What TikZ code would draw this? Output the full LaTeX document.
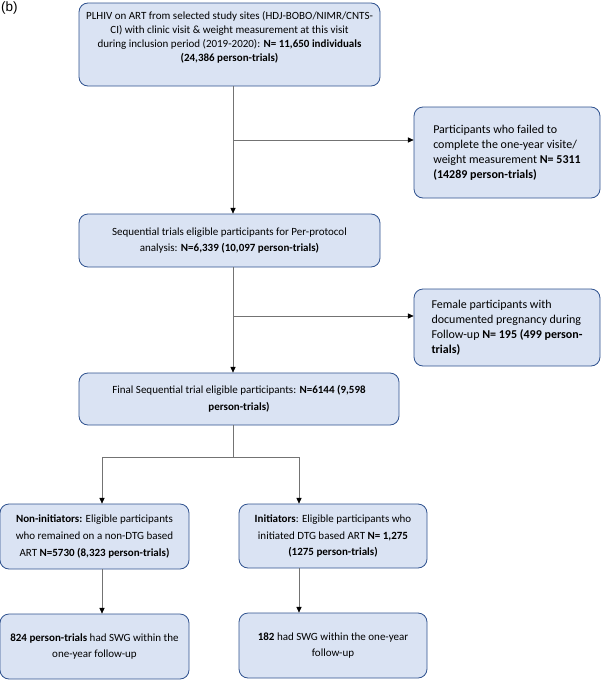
\documentclass[tikz,border=0pt]{standalone}
\usepackage{fontspec}
\setmainfont{Carlito}
\newfontfamily\panelfont{Liberation Sans}
\usepackage{xcolor}
\usepackage{tikz}
\usetikzlibrary{positioning, arrows.meta, calc}
\definecolor{boxfill}{RGB}{218,227,243}
\definecolor{boxline}{RGB}{47,82,143}
\definecolor{linkgray}{RGB}{115,115,115}
\tikzset{
  fbox/.style={draw=boxline, fill=boxfill, rounded corners=9pt, align=center, line width=0.8pt, font=\fontsize{11}{16.6}\selectfont, inner sep=2pt},
  sidebox/.style={fbox, align=left, font=\fontsize{12}{15}\selectfont},
  arr/.style={-{Triangle[length=2mm, width=1.8mm, color=black]}, draw=linkgray, line width=0.6pt},
  link/.style={draw=linkgray, line width=0.6pt},
}

\begin{document}
\begin{tikzpicture}[x=1pt, y=-1pt]
  \useasboundingbox (0,0) rectangle (602,680);
  \node[anchor=north west, font=\panelfont\fontsize{13.5}{15}\selectfont, inner sep=0pt] (panel) at (1,2) {(b)};

  % main column
  \node[fbox, font=\fontsize{11}{14}\selectfont, minimum width=301pt, minimum height=83pt] (cohort) at (229.5,44.5)
    {PLHIV on ART from selected study sites (HDJ-BOBO/NIMR/CNTS-\\
     CI) with clinic visit \& weight measurement at this visit\\
     during inclusion period (2019-2020): \textbf{N= 11,650 individuals}\\
     \textbf{(24,386 person-trials)}\rule[-17pt]{0pt}{0pt}};
  \node[fbox, minimum width=301pt, minimum height=53pt] (perproto) at (229.5,240.5)
    {Sequential trials eligible participants for Per-protocol\\
     analysis: \textbf{N=6,339 (10,097 person-trials)}};
  \node[fbox, minimum width=320pt, minimum height=52pt] (final) at (239,399)
    {Final Sequential trial eligible participants: \textbf{N=6144 (9,598}\\
     \textbf{person-trials)}};

  % exclusions
  \node[sidebox, minimum width=186pt, minimum height=91pt] (lost) at (507,152.5)
    {Participants who failed to\\
     complete the one-year visite/\\
     weight measurement \textbf{N= 5311}\\
     \textbf{(14289 person-trials)}};
  \node[sidebox, minimum width=186pt, minimum height=77pt] (preg) at (507,327.5)
    {Female participants with\\
     documented pregnancy during\\
     Follow-up \textbf{N= 195 (499 person-}\\
     \textbf{trials)}};

  % arms
  \node[fbox, minimum width=189pt, minimum height=65pt] (noninit) at (94.5,536.5)
    {\textbf{Non-initiators:} Eligible participants\\
     who remained on a non-DTG based\\
     ART \textbf{N=5730 (8,323 person-trials)}};
  \node[fbox, minimum width=188pt, minimum height=64pt] (init) at (333,536)
    {\textbf{Initiators}: Eligible participants who\\
     initiated DTG based ART \textbf{N= 1,275}\\
     \textbf{(1275 person-trials)}};
  \node[fbox, minimum width=189pt, minimum height=65pt] (swgnon) at (94.5,646.5)
    {\textbf{824 person-trials} had SWG within the\\
     one-year follow-up};
  \node[fbox, minimum width=188pt, minimum height=65pt] (swginit) at (333,645.5)
    {\textbf{182} had SWG within the one-year\\
     follow-up};

  % connectors
  \coordinate (trunk) at (233,0);
  \coordinate (exc1) at (233,140);
  \coordinate (exc2) at (233,316);
  \coordinate (split) at (233,457);
  \coordinate (lsplit) at (102,457);
  \coordinate (rsplit) at (299,457);
  \draw[arr] (trunk |- cohort.south) -- (trunk |- perproto.north);
  \draw[arr] (exc1) -- (exc1 -| lost.west);
  \draw[arr] (trunk |- perproto.south) -- (trunk |- final.north);
  \draw[arr] (exc2) -- (exc2 -| preg.west);
  \draw[link] (trunk |- final.south) -- (split);
  \draw[arr] (split) -- (lsplit) -- (lsplit |- noninit.north);
  \draw[arr] (split) -- (rsplit) -- (rsplit |- init.north);
  \draw[arr] (lsplit |- noninit.south) -- (lsplit |- swgnon.north);
  \draw[arr] (rsplit |- init.south) -- (rsplit |- swginit.north);
\end{tikzpicture}
\end{document}
